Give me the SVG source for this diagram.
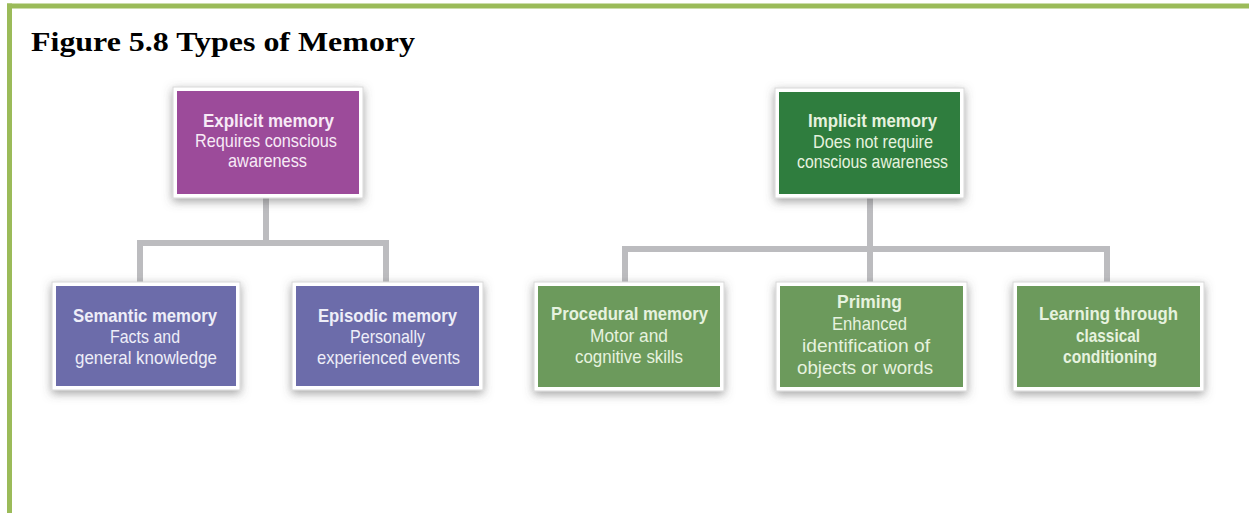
<svg xmlns="http://www.w3.org/2000/svg" width="1249" height="513" viewBox="0 0 1249 513">
  <defs>
    <filter id="sh" x="-20%" y="-20%" width="140%" height="150%">
      <feDropShadow dx="0" dy="3" stdDeviation="5" flood-color="#555" flood-opacity="0.55"/>
    </filter>
  </defs>
  <style>
    .frame { fill: #ffffff; stroke: #d8d8d8; stroke-width: 1; filter: url(#sh); }
    .t { font-family: "Liberation Sans", Arial, sans-serif; font-size: 19px; text-anchor: middle; }
    .b { font-weight: bold; }
    .lp { fill: #f7eaf6; }
    .lg { fill: #e6f2df; }
    .lb { fill: #eeeef8; }
    .conn { fill: none; stroke: #bcbcbf; stroke-width: 6; stroke-linejoin: miter; }
  </style>
  <rect x="0" y="0" width="1249" height="513" fill="#ffffff"/>
  <g id="border">
    <rect x="7" y="3.5" width="1242" height="5" fill="#9bbb59"/>
    <rect x="7" y="3.5" width="5" height="510" fill="#9bbb59"/>
  </g>
  <text x="31" y="51" font-family="'Liberation Serif', 'Times New Roman', serif" font-weight="bold" font-size="28" fill="#000" textLength="384" lengthAdjust="spacingAndGlyphs">Figure 5.8 Types of Memory</text>

  <g id="connectors">
    <path class="conn" d="M140,284 V243 H386 V284"/>
    <path class="conn" d="M266,196 V243"/>
    <path class="conn" d="M625,284 V249 H1107 V284"/>
    <path class="conn" d="M870,196 V284"/>
  </g>

  <g id="explicit">
    <rect class="frame" x="173" y="87" width="190" height="111"/>
    <rect x="177" y="91" width="182" height="103" fill="#9c4b9a"/>
    <text class="t b lp" x="268.5" y="127" textLength="131" lengthAdjust="spacingAndGlyphs">Explicit memory</text>
    <text class="t lp" x="266" y="147" textLength="142" lengthAdjust="spacingAndGlyphs">Requires conscious</text>
    <text class="t lp" x="267.5" y="167" textLength="79" lengthAdjust="spacingAndGlyphs">awareness</text>
  </g>

  <g id="implicit">
    <rect class="frame" x="775" y="88" width="189" height="110"/>
    <rect x="779" y="92" width="181" height="102" fill="#2f7d3e"/>
    <text class="t b lg" x="872.5" y="127" textLength="129" lengthAdjust="spacingAndGlyphs">Implicit memory</text>
    <text class="t lg" x="873" y="148" textLength="120" lengthAdjust="spacingAndGlyphs">Does not require</text>
    <text class="t lg" x="872.5" y="168" textLength="151" lengthAdjust="spacingAndGlyphs">conscious awareness</text>
  </g>

  <g id="semantic">
    <rect class="frame" x="52" y="282" width="188" height="108"/>
    <rect x="56" y="286" width="180" height="100" fill="#6c6caa"/>
    <text class="t b lb" x="145" y="322" textLength="144" lengthAdjust="spacingAndGlyphs">Semantic memory</text>
    <text class="t lb" x="145" y="343" textLength="70" lengthAdjust="spacingAndGlyphs">Facts and</text>
    <text class="t lb" x="146" y="364" textLength="142" lengthAdjust="spacingAndGlyphs">general knowledge</text>
  </g>

  <g id="episodic">
    <rect class="frame" x="292" y="282" width="191" height="108"/>
    <rect x="296" y="286" width="183" height="100" fill="#6c6caa"/>
    <text class="t b lb" x="387.5" y="322" textLength="139" lengthAdjust="spacingAndGlyphs">Episodic memory</text>
    <text class="t lb" x="387.5" y="343" textLength="75" lengthAdjust="spacingAndGlyphs">Personally</text>
    <text class="t lb" x="388.5" y="364" textLength="143" lengthAdjust="spacingAndGlyphs">experienced events</text>
  </g>

  <g id="procedural">
    <rect class="frame" x="534" y="282" width="190" height="109"/>
    <rect x="538" y="286" width="182" height="101" fill="#6c9a5c"/>
    <text class="t b lg" x="629.5" y="320" textLength="157" lengthAdjust="spacingAndGlyphs">Procedural memory</text>
    <text class="t lg" x="629" y="342" textLength="78" lengthAdjust="spacingAndGlyphs">Motor and</text>
    <text class="t lg" x="629" y="363" textLength="108" lengthAdjust="spacingAndGlyphs">cognitive skills</text>
  </g>

  <g id="priming">
    <rect class="frame" x="776" y="282" width="191" height="109"/>
    <rect x="780" y="286" width="183" height="101" fill="#6c9a5c"/>
    <text class="t b lg" x="869.5" y="308" textLength="65" lengthAdjust="spacingAndGlyphs">Priming</text>
    <text class="t lg" x="869.5" y="330" textLength="75" lengthAdjust="spacingAndGlyphs">Enhanced</text>
    <text class="t lg" x="866" y="352" textLength="128" lengthAdjust="spacingAndGlyphs">identification of</text>
    <text class="t lg" x="865" y="374" textLength="136" lengthAdjust="spacingAndGlyphs">objects or words</text>
  </g>

  <g id="learning">
    <rect class="frame" x="1013" y="282" width="191" height="109"/>
    <rect x="1017" y="286" width="183" height="101" fill="#6c9a5c"/>
    <text class="t b lg" x="1108.5" y="320" textLength="139" lengthAdjust="spacingAndGlyphs">Learning through</text>
    <text class="t b lg" x="1108" y="342" textLength="64" lengthAdjust="spacingAndGlyphs">classical</text>
    <text class="t b lg" x="1110" y="363" textLength="94" lengthAdjust="spacingAndGlyphs">conditioning</text>
  </g>
</svg>
